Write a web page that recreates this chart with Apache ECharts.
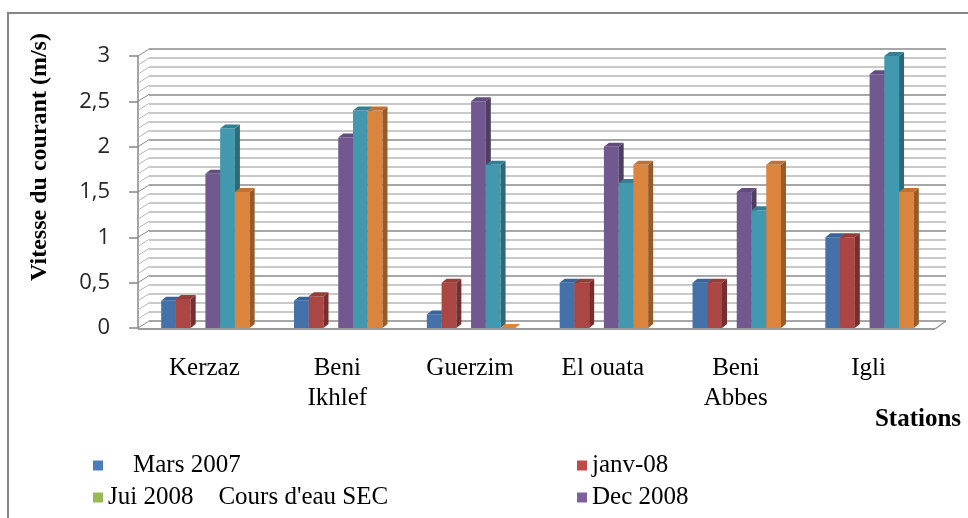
<!DOCTYPE html>
<html>
<head>
<meta charset="utf-8">
<script src="https://cdn.jsdelivr.net/npm/echarts@6/dist/echarts.min.js"></script>
<style>
html,body{margin:0;padding:0;background:#fff;}
#chart{width:968px;height:518px;}
</style>
</head>
<body>
<div id="chart"></div>
<script>
// ---- data ----
const categories = ['Kerzaz', 'Beni\nIkhlef', 'Guerzim', 'El ouata', 'Beni\nAbbes', 'Igli'];
const seriesNames = ['Mars 2007', 'janv-08', "Jui 2008    Cours d'eau SEC", 'Dec 2008', 'Série 5', 'Série 6'];
const mars2007 = [0.3, 0.3, 0.15, 0.5, 0.5, 1.0];
const janv08  = [0.32, 0.35, 0.5, 0.5, 0.5, 1.0];
const jui2008 = [0, 0, 0, 0, 0, 0];
const dec2008 = [1.7, 2.1, 2.5, 2.0, 1.5, 2.8];
const serie5  = [2.2, 2.4, 1.8, 1.6, 1.3, 3.0];
const serie6  = [1.5, 2.4, 0, 1.8, 1.8, 1.5];
const yTicks = [0, 0.5, 1, 1.5, 2, 2.5, 3];

const allData = [mars2007, janv08, jui2008, dec2008, serie5, serie6];
const legendColors = ['#4A7EBB', '#BE4B48', '#98B954', '#7D60A0', '#4BACC6', '#F79646'];
const frontColors = ['#4571AA', '#AA4644', '#8AA84E', '#71588F', '#4198AF', '#DB843D'];
const sideColors  = ['#2E4E77', '#762F2E', '#5F7535', '#4E3D65', '#2C6A7A', '#985B28'];
const topColors   = ['#3A6398', '#963C3A', '#7A9645', '#634D7F', '#347F93', '#C07234'];
const drawZero    = [true, true, false, true, true, true];

const DX = 11, DY = -7;     // wall depth
const BDX = 5, BDY = -4;    // bar depth
const GL = 138, GT = 56, GW = 797, GH = 272;

const serif = 'Liberation Serif';

function barRenderer(si) {
  return function (params, api) {
    const cat = api.value(0), v = api.value(1);
    const base = api.coord([cat, 0]);
    const top = api.coord([cat, v]);
    const cw = api.size([1, 0])[0];
    const bw = cw * 0.111;
    const x0 = base[0] - 3 * bw + si * bw + 1;
    const x1 = x0 + bw;
    const yb = base[1], yt = top[1];
    const children = [];
    if (v > 0) {
      children.push({type: 'rect', shape: {x: x0, y: yt, width: bw, height: yb - yt}, style: {fill: frontColors[si]}});
      children.push({type: 'polygon', shape: {points: [[x1, yt], [x1 + BDX, yt + BDY], [x1 + BDX, yb + BDY], [x1, yb]]}, style: {fill: sideColors[si]}});
      children.push({type: 'polygon', shape: {points: [[x0, yt], [x1, yt], [x1 + BDX, yt + BDY], [x0 + BDX, yt + BDY]]}, style: {fill: topColors[si]}});
    } else if (drawZero[si]) {
      children.push({type: 'polygon', shape: {points: [[x0, yb], [x1, yb], [x1 + BDX, yb + BDY], [x0 + BDX, yb + BDY]]}, style: {fill: frontColors[si]}});
    }
    return {type: 'group', children: children};
  };
}

function wallRenderer(params, api) {
  const cw = api.size([1, 0])[0];
  const left = api.coord([0, 0])[0] - cw / 2;
  const right = api.coord([categories.length - 1, 0])[0] + cw / 2;
  const children = [];
  const y0 = api.coord([0, 0])[1];
  const y3 = api.coord([0, 3])[1];
  const step = (y0 - y3) / 30;
  for (let k = 0; k <= 30; k++) {
    const y = y0 - k * step;
    children.push({type: 'line', shape: {x1: left, y1: y, x2: left + DX, y2: y + DY},
      style: {stroke: k % 5 === 0 ? '#8a8a8a' : '#b8b8b8', lineWidth: 1}});
  }
  children.push({type: 'line', shape: {x1: left, y1: y0 + 1, x2: right, y2: y0 + 1}, style: {stroke: '#9a9a9a', lineWidth: 2}});
  children.push({type: 'line', shape: {x1: right, y1: y0 + 1, x2: right + DX, y2: y0 + DY}, style: {stroke: '#9a9a9a', lineWidth: 1.5}});
  return {type: 'group', children: children};
}

const series = [{
  type: 'custom', name: 'walls', xAxisIndex: 0, yAxisIndex: 0, z: 1, silent: true,
  data: [[0, 0]], renderItem: wallRenderer
}];
allData.forEach(function (arr, si) {
  series.push({
    type: 'custom', name: seriesNames[si], xAxisIndex: 0, yAxisIndex: 0, z: 5 + si,
    itemStyle: {color: legendColors[si]},
    data: arr.map(function (v, i) { return [i, v]; }),
    renderItem: barRenderer(si)
  });
});

function legendAt(name, left, top, fmt) {
  return {
    left: left, top: top, orient: 'horizontal',
    icon: 'rect', itemWidth: 10, itemHeight: 10, padding: 0,
    data: [name],
    formatter: fmt || '{name}',
    textStyle: {fontFamily: serif, fontSize: 25, lineHeight: 25, color: '#000'}
  };
}

const chart = echarts.init(document.getElementById('chart'), null, {renderer: 'canvas'});
chart.setOption({
  animation: false,
  backgroundColor: '#fff',
  grid: [
    {left: GL, top: GT, width: GW, height: GH},
    {left: GL + DX, top: GT + DY, width: GW, height: GH}
  ],
  xAxis: [{
    type: 'category', gridIndex: 0, data: categories,
    axisLine: {show: false}, axisTick: {show: false},
    axisLabel: {interval: 0, margin: 25, fontFamily: serif, fontSize: 25, lineHeight: 30, color: '#000'}
  }, {
    type: 'category', gridIndex: 1, data: categories, show: false
  }],
  yAxis: [{
    type: 'value', gridIndex: 0, min: 0, max: 3, interval: 0.5,
    axisLine: {show: true, lineStyle: {color: '#868686', width: 1.5}},
    axisTick: {show: true, inside: false, length: 9, lineStyle: {color: '#868686', width: 1.5}},
    splitLine: {show: false},
    axisLabel: {margin: 28, fontFamily: 'Open Sans', fontSize: 22, color: '#262626',
      formatter: function (v) { return String(v).replace('.', ','); }}
  }, {
    type: 'value', gridIndex: 1, min: 0, max: 3, interval: 0.5,
    axisLine: {show: false}, axisTick: {show: false}, axisLabel: {show: false},
    splitLine: {show: true, lineStyle: {color: '#8a8a8a', width: 1.5}},
    minorTick: {show: false, splitNumber: 5},
    minorSplitLine: {show: true, lineStyle: {color: '#b8b8b8', width: 1.5}}
  }],
  legend: [
    legendAt(seriesNames[0], 93, 453, '    {name}'),
    legendAt(seriesNames[2], 93, 485),
    legendAt(seriesNames[1], 577, 453),
    legendAt(seriesNames[3], 577, 485)
  ],
  graphic: [
    {type: 'rect', z: 0, silent: true, shape: {x: 8, y: 13, width: 1000, height: 600},
      style: {fill: 'none', stroke: '#868686', lineWidth: 2}},
    {type: 'text', x: 40, y: 157, rotation: Math.PI / 2,
      style: {text: 'Vitesse du courant (m/s)', font: 'bold 24px "Liberation Serif"',
        fill: '#000', align: 'center', verticalAlign: 'middle', textAlign: 'center', textVerticalAlign: 'middle'}},
    {type: 'text', x: 918, y: 420,
      style: {text: 'Stations', font: 'bold 25px "Liberation Serif"',
        fill: '#000', align: 'center', verticalAlign: 'middle', textAlign: 'center', textVerticalAlign: 'middle'}}
  ],
  series: series
});
</script>
</body>
</html>
